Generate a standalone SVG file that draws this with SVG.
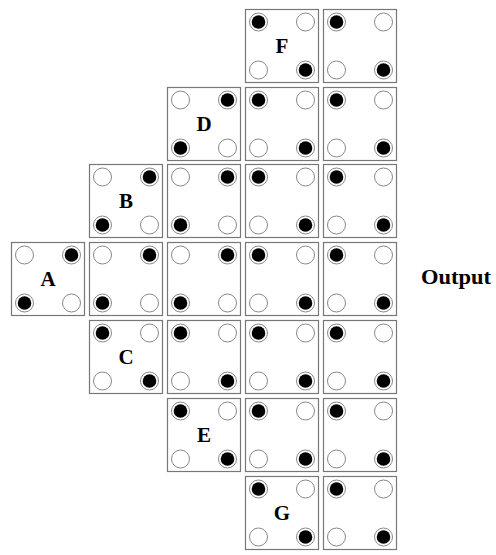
<svg xmlns="http://www.w3.org/2000/svg" width="496" height="555" viewBox="0 0 496 555">
<style>
.box{fill:#fff;stroke:#777;stroke-width:1.2}
.w{fill:#fff;stroke:#888;stroke-width:1}
.ring{fill:#fff;stroke:#888;stroke-width:1}
.b{fill:#000}
.lbl{font-family:"Liberation Serif",serif;font-weight:bold;font-size:21px;text-anchor:middle}
</style>
<defs>
<g id="wc"><circle r="9" class="w"/></g>
<g id="bc"><circle r="9" class="ring"/><circle r="6.8" class="b"/></g>
<g id="diag1">
<rect x="0" y="0" width="73" height="73" class="box"/>
<use href="#bc" x="13" y="12.5"/><use href="#wc" x="60" y="12.5"/>
<use href="#wc" x="13" y="60.5"/><use href="#bc" x="60" y="60.5"/>
</g>
<g id="diag2">
<rect x="0" y="0" width="73" height="73" class="box"/>
<use href="#wc" x="13" y="12.5"/><use href="#bc" x="60" y="12.5"/>
<use href="#bc" x="13" y="60.5"/><use href="#wc" x="60" y="60.5"/>
</g>
</defs>
<g id="connectors"/>
<g id="F"><use href="#diag1" x="245.5" y="9.5"/><text x="282" y="53" class="lbl">F</text></g>
<g id="F2"><use href="#diag1" x="323.5" y="9.5"/></g>
<g id="D"><use href="#diag2" x="167.5" y="87.5"/><text x="204" y="131" class="lbl">D</text></g>
<g id="D2"><use href="#diag1" x="245.5" y="87.5"/></g>
<g id="D3"><use href="#diag1" x="323.5" y="87.5"/></g>
<g id="B"><use href="#diag2" x="89.5" y="164.5"/><text x="126" y="208" class="lbl">B</text></g>
<g id="B2"><use href="#diag2" x="167.5" y="164.5"/></g>
<g id="B3"><use href="#diag1" x="245.5" y="164.5"/></g>
<g id="B4"><use href="#diag1" x="323.5" y="164.5"/></g>
<g id="A"><use href="#diag2" x="11.5" y="242.5"/><text x="48" y="286" class="lbl">A</text></g>
<g id="A2"><use href="#diag2" x="89.5" y="242.5"/></g>
<g id="A3"><use href="#diag2" x="167.5" y="242.5"/></g>
<g id="A4"><use href="#diag1" x="245.5" y="242.5"/></g>
<g id="A5"><use href="#diag1" x="323.5" y="242.5"/></g>
<g id="C"><use href="#diag1" x="89.5" y="320.5"/><text x="126" y="364" class="lbl">C</text></g>
<g id="C2"><use href="#diag1" x="167.5" y="320.5"/></g>
<g id="C3"><use href="#diag1" x="245.5" y="320.5"/></g>
<g id="C4"><use href="#diag1" x="323.5" y="320.5"/></g>
<g id="E"><use href="#diag1" x="167.5" y="398.5"/><text x="204" y="442" class="lbl">E</text></g>
<g id="E2"><use href="#diag1" x="245.5" y="398.5"/></g>
<g id="E3"><use href="#diag1" x="323.5" y="398.5"/></g>
<g id="G"><use href="#diag1" x="245.5" y="476.5"/><text x="282" y="520" class="lbl">G</text></g>
<g id="G2"><use href="#diag1" x="323.5" y="476.5"/></g>
<g id="Output"><text x="456" y="284" class="lbl" textLength="70" lengthAdjust="spacingAndGlyphs">Output</text></g>
</svg>
